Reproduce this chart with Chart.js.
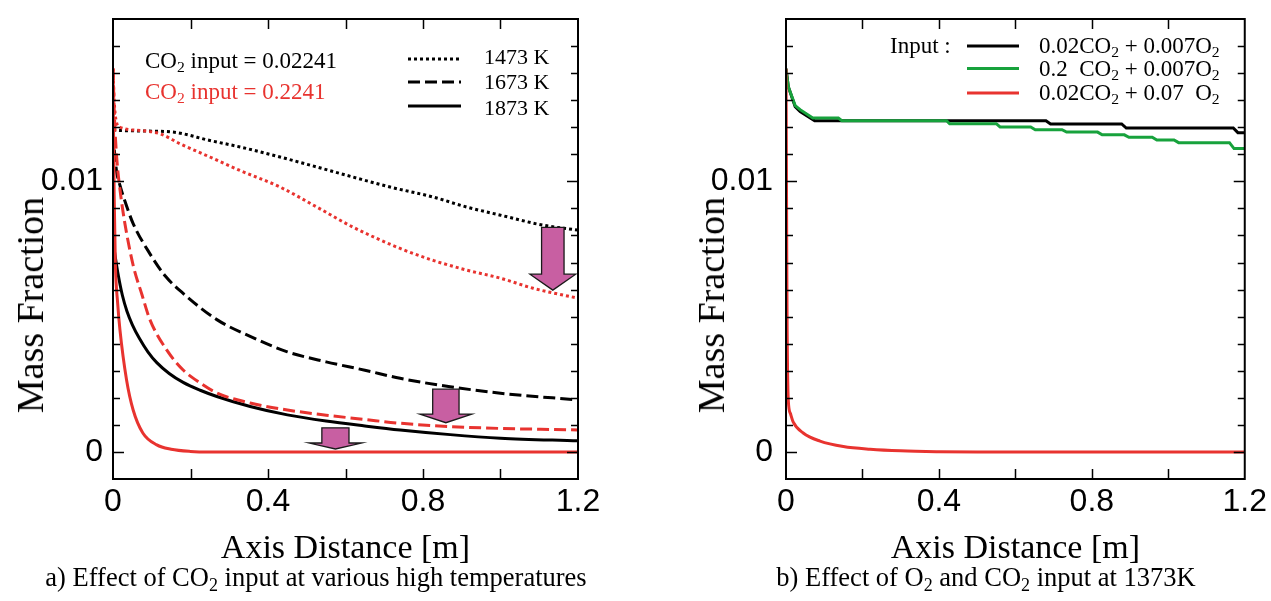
<!DOCTYPE html>
<html>
<head>
<meta charset="utf-8">
<script src="https://cdn.jsdelivr.net/npm/chart.js@4.4.1/dist/chart.umd.min.js"></script>
<style>
  body { margin: 0; background: #fff; width: 1271px; height: 601px; overflow: hidden; position: relative;
         font-family: "Liberation Serif", "Times New Roman", serif; color: #000; }
  .wrap { position: absolute; top: 0; }
  #wa { left: 0; width: 620px; height: 575px; }
  #wb { left: 673px; width: 598px; height: 575px; }
  .lab { position: absolute; white-space: pre; font-size: 23px; line-height: 1; }
  .red { color: #e8332f; }
  .cap { position: absolute; top: 564px; font-size: 26.5px; line-height: 1; white-space: nowrap; transform: translateX(-50%); }
  .ytitle { position: absolute; top: 305px; font-size: 38px; line-height: 1; white-space: nowrap;
            transform: translate(-50%, -50%) rotate(-90deg); }
  sub { font-size: 0.68em; vertical-align: -0.28em; line-height: 0; }
  svg.key { position: absolute; overflow: visible; }
</style>
</head>
<body>
<div class="wrap" id="wa"><canvas id="ca" width="620" height="575"></canvas></div>
<div class="wrap" id="wb"><canvas id="cb" width="598" height="575"></canvas></div>

<div class="ytitle" style="left:30px">Mass Fraction</div>
<div class="ytitle" style="left:711px">Mass Fraction</div>

<!-- legend a -->
<div class="lab" style="left:145px;top:49px">CO<sub>2</sub> input = 0.02241</div>
<div class="lab red" style="left:145px;top:80px">CO<sub>2</sub> input = 0.2241</div>
<svg class="key" style="left:408px;top:50px" width="53" height="60">
  <line x1="0" y1="9" x2="53" y2="9" stroke="#000" stroke-width="3" stroke-dasharray="3 3"/>
  <line x1="0" y1="32" x2="53" y2="32" stroke="#000" stroke-width="3" stroke-dasharray="12 5"/>
  <line x1="0" y1="56" x2="53" y2="56" stroke="#000" stroke-width="3"/>
</svg>
<div class="lab" style="left:484px;top:46px;font-size:22px">1473 K</div>
<div class="lab" style="left:484px;top:71px;font-size:22px">1673 K</div>
<div class="lab" style="left:484px;top:97px;font-size:22px">1873 K</div>

<!-- legend b -->
<div class="lab" style="left:890px;top:34px">Input :</div>
<svg class="key" style="left:967px;top:40px" width="52" height="60">
  <line x1="0" y1="6" x2="52" y2="6" stroke="#000" stroke-width="3"/>
  <line x1="0" y1="28.5" x2="52" y2="28.5" stroke="#17a23c" stroke-width="3"/>
  <line x1="0" y1="53" x2="52" y2="53" stroke="#e8332f" stroke-width="3"/>
</svg>
<div class="lab" style="left:1039px;top:34px">0.02CO<sub>2</sub> + 0.007O<sub>2</sub></div>
<div class="lab" style="left:1039px;top:57px">0.2  CO<sub>2</sub> + 0.007O<sub>2</sub></div>
<div class="lab" style="left:1039px;top:81px">0.02CO<sub>2</sub> + 0.07  O<sub>2</sub></div>

<div class="cap" style="left:316px">a) Effect of CO<sub>2</sub> input at various high temperatures</div>
<div class="cap" style="left:986px">b) Effect of O<sub>2</sub> and CO<sub>2</sub> input at 1373K</div>

<script>
// tick labels shown on the axes
const xTickLabels = ['0', '0.4', '0.8', '1.2'];
const yTickLabels = ['0', '0.01'];

// a) CO2 mass fraction along the axis, [distance m, mass fraction]
const dot1473Low = [[0,0.0119],[0.018,0.01188],[0.08,0.01186],[0.155,0.01182],[0.25,0.01151],[0.328,0.01127],[0.431,0.0109],[0.526,0.01053],[0.619,0.01016],[0.715,0.00979],[0.826,0.00942],[0.913,0.00905],[1.0,0.00875],[1.11,0.00838],[1.2,0.0082]];
const dot1473High = [[0,0.01417],[0.003,0.013],[0.008,0.01225],[0.018,0.012],[0.07,0.01188],[0.121,0.01176],[0.173,0.01139],[0.25,0.0109],[0.328,0.0104],[0.431,0.00979],[0.526,0.00905],[0.619,0.00831],[0.741,0.00752],[0.826,0.00708],[0.913,0.00672],[1.0,0.00642],[1.084,0.00605],[1.2,0.00568]];
const dash1673Low = [[0,0.0118],[0.005,0.0109],[0.01,0.0103],[0.018,0.00985],[0.03,0.0093],[0.052,0.00844],[0.095,0.00733],[0.135,0.0065],[0.181,0.00586],[0.268,0.00489],[0.354,0.00427],[0.45,0.0037],[0.55,0.00333],[0.65,0.00302],[0.741,0.00272],[0.87,0.00241],[1.0,0.00217],[1.2,0.00192]];
const dash1673High = [[0,0.01417],[0.004,0.0123],[0.01,0.0108],[0.018,0.0097],[0.03,0.0085],[0.052,0.0069],[0.075,0.0058],[0.095,0.0049],[0.139,0.00376],[0.181,0.00303],[0.225,0.00255],[0.268,0.00218],[0.354,0.00181],[0.45,0.00155],[0.55,0.00136],[0.65,0.0012],[0.741,0.00106],[0.913,0.00091],[1.2,0.00081]];
const solid1873Low = [[0,0.0078],[0.006,0.0072],[0.014,0.0065],[0.024,0.0058],[0.036,0.0052],[0.05,0.0047],[0.068,0.0042],[0.09,0.0037],[0.113,0.0033],[0.145,0.0029],[0.181,0.00257],[0.225,0.00228],[0.268,0.00205],[0.354,0.00168],[0.45,0.00137],[0.55,0.00114],[0.65,0.00096],[0.741,0.00081],[0.87,0.00064],[1.0,0.00051],[1.2,0.00041]];
const solid1873High = [[0,0.01417],[0.001,0.0125],[0.003,0.0095],[0.006,0.007],[0.012,0.0055],[0.018,0.0045],[0.035,0.00266],[0.052,0.00155],[0.077,0.0007],[0.113,0.00026],[0.15,0.0001],[0.2,0.00002],[0.25,0],[1.2,0]];

// arrows in a): [shaft left, shaft right, head left, head right, top, head start, tip]
const arrowsA = [
  [1.106, 1.164, 1.076, 1.194, 0.0083, 0.00657, 0.00598],
  [0.825, 0.893, 0.792, 0.926, 0.00232, 0.0014, 0.00108],
  [0.539, 0.609, 0.506, 0.642, 0.00089, 0.00033, 0.00011]
];

// b) at 1373K
const inLowLow = [[0,0.01416],[0.006,0.0135],[0.024,0.01276],[0.037,0.01258],[0.075,0.01224],[0.68,0.01224],[0.692,0.01212],[0.878,0.01212],[0.89,0.01197],[1.17,0.01197],[1.182,0.0118],[1.2,0.0118]];
const inHighCO2 = [[0,0.01416],[0.006,0.0135],[0.024,0.0128],[0.037,0.01265],[0.07,0.01234],[0.137,0.01234],[0.146,0.01224],[0.42,0.01224],[0.428,0.01213],[0.55,0.01213],[0.56,0.01201],[0.64,0.01201],[0.652,0.01191],[0.722,0.01191],[0.734,0.01182],[0.815,0.01182],[0.827,0.01172],[0.885,0.01172],[0.897,0.01163],[0.958,0.01163],[0.97,0.01153],[1.015,0.01153],[1.027,0.01143],[1.16,0.01143],[1.172,0.01121],[1.2,0.01121]];
const inHighO2 = [[0,0.01416],[0.001,0.011],[0.002,0.0072],[0.003,0.0045],[0.004,0.0031],[0.006,0.0019],[0.012,0.0014],[0.019,0.0011],[0.045,0.0007],[0.089,0.0004],[0.15,0.0002],[0.22,0.0001],[0.3,0.00004],[0.4,0.00001],[0.5,0],[1.2,0]];

const RED = '#e8332f', GREEN = '#17a23c', PINK = '#c85fa2';

const pts = arr => arr.map(([x, y]) => ({x, y}));

function line(data, color, dash, smooth) {
  return {
    data: pts(data), borderColor: color, borderWidth: 3, borderDash: dash || [],
    pointRadius: 0, fill: false, borderCapStyle: 'butt',
    cubicInterpolationMode: smooth ? 'monotone' : 'default', tension: 0
  };
}

// frame + inward ticks on all four sides
const frameTicks = {
  id: 'frameTicks',
  afterDraw(chart) {
    const {ctx, chartArea: a, scales: {x, y}} = chart;
    ctx.save();
    ctx.strokeStyle = '#000';
    ctx.lineWidth = 1.5;
    ctx.beginPath();
    x.ticks.forEach(t => {
      const px = Math.round(x.getPixelForValue(t.value)) + 0.5;
      if (px <= a.left + 2 || px >= a.right - 2) return;
      ctx.moveTo(px, a.bottom); ctx.lineTo(px, a.bottom - 10);
      ctx.moveTo(px, a.top); ctx.lineTo(px, a.top + 10);
    });
    y.ticks.forEach(t => {
      const py = Math.round(y.getPixelForValue(t.value)) + 0.5;
      if (py <= a.top + 2 || py >= a.bottom - 2) return;
      const len = t.label ? 11 : 7;
      ctx.moveTo(a.left, py); ctx.lineTo(a.left + len, py);
      ctx.moveTo(a.right, py); ctx.lineTo(a.right - len, py);
    });
    ctx.stroke();
    ctx.lineWidth = 2;
    ctx.strokeRect(a.left, a.top, a.width, a.height);
    ctx.restore();
  }
};

function arrowPlugin(list) {
  return {
    id: 'arrows',
    afterDatasetsDraw(chart) {
      const {ctx, scales: {x, y}} = chart;
      const X = v => x.getPixelForValue(v), Y = v => y.getPixelForValue(v);
      ctx.save();
      list.forEach(([sl, sr, hl, hr, yt, yh, ytip]) => {
        ctx.beginPath();
        ctx.moveTo(X(sl), Y(yt));
        ctx.lineTo(X(sr), Y(yt));
        ctx.lineTo(X(sr), Y(yh));
        ctx.lineTo(X(hr), Y(yh));
        ctx.lineTo(X((hl + hr) / 2), Y(ytip));
        ctx.lineTo(X(hl), Y(yh));
        ctx.lineTo(X(sl), Y(yh));
        ctx.closePath();
        ctx.fillStyle = PINK;
        ctx.fill();
        ctx.strokeStyle = '#1a1a1a';
        ctx.lineWidth = 1.3;
        ctx.stroke();
      });
      ctx.restore();
    }
  };
}

function makeChart(id, datasets, opt) {
  return new Chart(document.getElementById(id), {
    type: 'line',
    data: { datasets },
    plugins: [frameTicks, arrowPlugin(opt.arrows || [])],
    options: {
      responsive: false, animation: false, events: [],
      layout: { padding: { top: 19, right: opt.padRight, left: 0, bottom: 0 } },
      plugins: { legend: { display: false }, tooltip: { enabled: false } },
      scales: {
        x: {
          type: 'linear', min: 0, max: 1.2,
          grid: { display: false, drawTicks: false }, border: { display: false },
          ticks: {
            stepSize: 0.2, padding: 4, color: '#000', maxRotation: 0, autoSkip: false,
            font: { family: 'Liberation Sans', size: 32 },
            callback: v => { const s = String(+(+v).toFixed(1)); return xTickLabels.includes(s) ? s : ''; }
          },
          title: { display: true, text: 'Axis Distance [m]', color: '#000',
                   font: { family: 'Liberation Serif', size: 34 }, padding: { top: 0, bottom: 6 } },
          afterFit: s => { s.height = 96; }
        },
        y: {
          type: 'linear', min: -0.001, max: 0.016,
          grid: { display: false, drawTicks: false }, border: { display: false },
          ticks: {
            stepSize: 0.001, padding: opt.yPad, color: '#000', autoSkip: false,
            font: { family: 'Liberation Sans', size: 32 },
            callback: v => { const s = String(+(+v).toFixed(3)); return yTickLabels.includes(s) ? s : ''; }
          },
          afterFit: s => { s.width = 113; s.paddingTop = 0; s.paddingBottom = 0; }
        }
      }
    }
  });
}

makeChart('ca', [
  line(solid1873High, RED, [], true),
  line(dash1673High, RED, [12, 5], true),
  line(dot1473High, RED, [3, 3], true),
  line(solid1873Low, '#000', [], true),
  line(dash1673Low, '#000', [12, 5], true),
  line(dot1473Low, '#000', [3, 3], true)
], { padRight: 42, yPad: 10, arrows: arrowsA });

makeChart('cb', [
  line(inHighO2, RED, [], true),
  line(inHighCO2, GREEN, [], false),
  line(inLowLow, '#000', [], false)
], { padRight: 26, yPad: 13 });
</script>
</body>
</html>
